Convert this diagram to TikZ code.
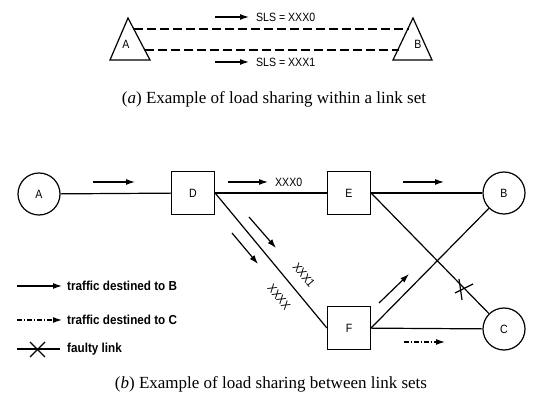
\documentclass[tikz,border=0pt]{standalone}
\usepackage{fontspec}
\setmainfont{Liberation Serif}
\newfontfamily\lab[FakeStretch=0.88]{Liberation Sans}
\newfontfamily\legf[FakeStretch=0.9]{Liberation Sans}
\usetikzlibrary{arrows.meta,calc}
\begin{document}
\begin{tikzpicture}[x=1pt,y=-1pt,
  ln/.style={line width=1.2pt},
  arr/.style={line width=1.2pt,-{Latex[length=9pt,width=6pt]}},
  darr/.style={arr,dash pattern=on 5pt off 2pt on 1pt off 2pt},
  dl/.style={line width=1.2pt,dash pattern=on 9pt off 4pt},
  lbl/.style={font=\lab\fontsize{12}{14}\selectfont,inner sep=0pt},
  leg/.style={font=\legf\bfseries\fontsize{13}{15}\selectfont,inner sep=0pt,anchor=west},
  captxt/.style={font=\fontsize{17}{20}\selectfont,inner sep=0pt},
  box/.style={draw,line width=1.2pt,minimum size=43pt,inner sep=0pt,font=\lab\fontsize{12}{14}\selectfont},
  circ/.style={draw,circle,line width=1.2pt,minimum size=42pt,inner sep=0pt,font=\lab\fontsize{12}{14}\selectfont}]
\useasboundingbox (0,0) rectangle (536,403);
% ---------- (a)
\draw[ln,line join=miter] (110,60) -- (128,18) -- (150,60) -- cycle;
\node[lbl] (ta) at (126,44) {A};
\draw[ln,line join=miter] (393,60) -- (413,18) -- (432,60) -- cycle;
\node[lbl] (tb) at (418,44) {B};
\coordinate (a1) at (134,29); \coordinate (b1) at (409,29);
\coordinate (a2) at (145,50); \coordinate (b2) at (399,50);
\draw[dl] (a1) -- (b1);
\draw[dl] (a2) -- (b2);
\coordinate (s1) at (215,17); \coordinate (e1) at (249,17);
\draw[arr] (s1) -- (e1);
\node[lbl,anchor=west] (sls0) at (256,17) {SLS = XXX0};
\coordinate (s2) at (215,62); \coordinate (e2) at (249,62);
\draw[arr] (s2) -- (e2);
\node[lbl,anchor=west] (sls1) at (256,62) {SLS = XXX1};
\node[captxt] (capa) at (274,99) {(\textit{a}) Example of load sharing within a link set};
% ---------- (b)
\node[circ] (A) at (39,194) {A};
\node[box] (D) at (193,193) {D};
\node[box] (E) at (349,193) {E};
\node[box] (F) at (349,328) {F};
\node[circ] (B) at (504,193) {B};
\node[circ] (C) at (504,329) {C};
\draw[ln] (A) -- (D);
\draw[ln] (D) -- (E);
\draw[ln] (E) -- (B);
\draw[ln] (F) -- (C);
\draw[ln] (D.east) -- (F.west);
\draw[ln] (E.east) -- (C);
\draw[ln] (F.east) -- (B);
% traffic arrows
\draw[arr] (93,182) -- (135,182);
\draw[arr] (228,182) -- (268,182);
\node[lbl,anchor=west] (x0) at (275,182) {XXX0};
\draw[arr] (403,182) -- (444,182);
\draw[arr] (249,217) -- (276,248);
\draw[arr] (232,233) -- (258,264);
\node[lbl,rotate=-50] (x1) at (304,275) {XXX1};
\node[lbl,rotate=-50] (xx) at (279,297) {XXXX};
\draw[arr] (379,303) -- (409,274);
\draw[darr] (404,342) -- (445,342);
% faulty mark
\draw[ln] (455,293) -- (473,284);
\draw[ln] (459,279) -- (462,300);
% legend
\draw[arr] (17,286) -- (62,286);
\node[leg] (l1) at (67,286) {traffic destined to B};
\draw[darr] (17,320) -- (62,320);
\node[leg] (l2) at (67,320) {traffic destined to C};
\draw[ln] (17,349) -- (60,349);
\draw[ln] (30,342) -- (45,357);
\draw[ln] (45,342) -- (30,357);
\node[leg] (l3) at (67,349) {faulty link};
\node[captxt] (capb) at (271,384) {(\textit{b}) Example of load sharing between link sets};
\end{tikzpicture}
\end{document}
